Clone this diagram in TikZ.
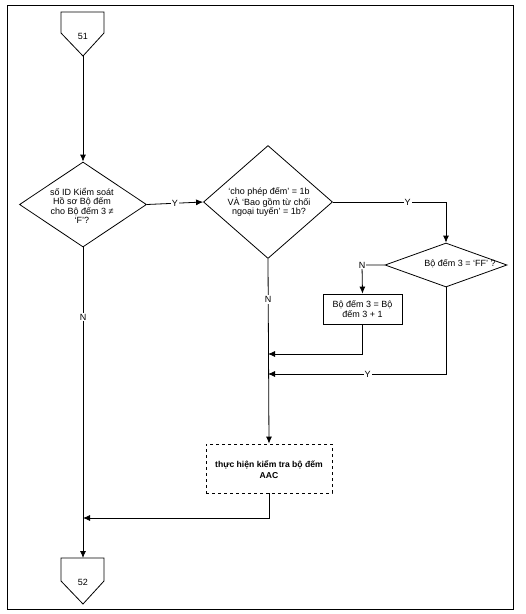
\documentclass[tikz,border=0pt]{standalone}
\usepackage{fontspec}
\setmainfont{Liberation Sans}
\usetikzlibrary{shapes.geometric,arrows.meta}
\begin{document}
\begin{tikzpicture}[x=1pt,y=-1pt,
  every node/.style={font=\fontsize{9}{9.5}\selectfont},
  line/.style={line width=0.8pt,draw=black},
  arr/.style={line,-{Latex[length=7pt,width=6pt]}},
  dia/.style={line,diamond,inner sep=0pt,shape aspect=1},
  txt/.style={align=center,inner sep=0pt},
  procbox/.style={line,rectangle,inner sep=0pt},
  lab/.style={fill=white,inner sep=1pt}]
\useasboundingbox (0,0) rectangle (526,614);
\draw[line] (7,5) rectangle (513,609);
% connector 51
\draw[line] (61,12) -- (104,12) -- (104,33) -- (83,56) -- (61,33) -- cycle;
\node[txt] (c51) at (83,36) {51};
\coordinate (c51b) at (83,56);
% connector 52
\draw[line] (61,558) -- (104,558) -- (104,581) -- (83,604) -- (61,581) -- cycle;
\node[txt] (c52) at (83,582) {52};
\coordinate (c52t) at (83,558);
% diamonds
\node[dia,minimum width=127pt,minimum height=85pt] (d1) at (83,204.5) {};
\node[txt] (d1t) at (82,206) {số ID Kiểm soát\\Hồ sơ Bộ đếm\\cho Bộ đếm 3 ≠\\‘F’?};
\node[dia,minimum width=129pt,minimum height=113pt] (d2) at (268,202) {};
\node[txt] (d2t) at (269,202) {‘cho phép đếm’ = 1b\\VÀ ‘Bao gồm từ chối\\ngoại tuyến’ = 1b?};
\node[dia,minimum width=122pt,minimum height=44pt] (d3) at (446,265) {};
\node[txt] (d3t) at (460,264) {Bộ đếm 3 = ‘FF’ ?};
% boxes
\node[procbox,minimum width=79pt,minimum height=30pt,txt,draw] (b1) at (362.5,309) {Bộ đếm 3 = Bộ\\đếm 3 + 1};
\node[procbox,dashed,minimum width=126pt,minimum height=49pt] (b2) at (269,468.5) {};
\node[txt,font=\fontsize{8.6}{11}\selectfont\bfseries] (b2t) at (269,470) {thực hiện kiểm tra bộ đếm\\AAC};
% coordinates
\coordinate (j1) at (446,202);
\coordinate (j2) at (362,265);
\coordinate (j3) at (362,354);
\coordinate (m1) at (268,354);
\coordinate (j4) at (446,374);
\coordinate (m2) at (268,374);
\coordinate (j5) at (268,518);
\coordinate (m3) at (83,518);
% connectors
\draw[arr] (c51b) -- (d1.north);
\draw[arr] (d1.east) -- node[lab,pos=0.5] {Y} (d2.west);
\draw[arr] (d2.east) -- node[lab,pos=0.66] {Y} (j1) -- (d3.north);
\draw[arr] (d3.west) -- (j2) node[lab] {N} -- (b1.north);
\draw[arr] (b1.south) |- (m1);
\draw[arr] (d3.south) |- node[lab,pos=0.72] {Y} (m2);
\draw[arr] (d2.south) -- node[lab,pos=0.22] {N} (b2.north);
\draw[arr] (b2.south) |- (m3);
\draw[arr] (d1.south) -- node[lab,pos=0.225] {N} (c52t);
\end{tikzpicture}
\end{document}
